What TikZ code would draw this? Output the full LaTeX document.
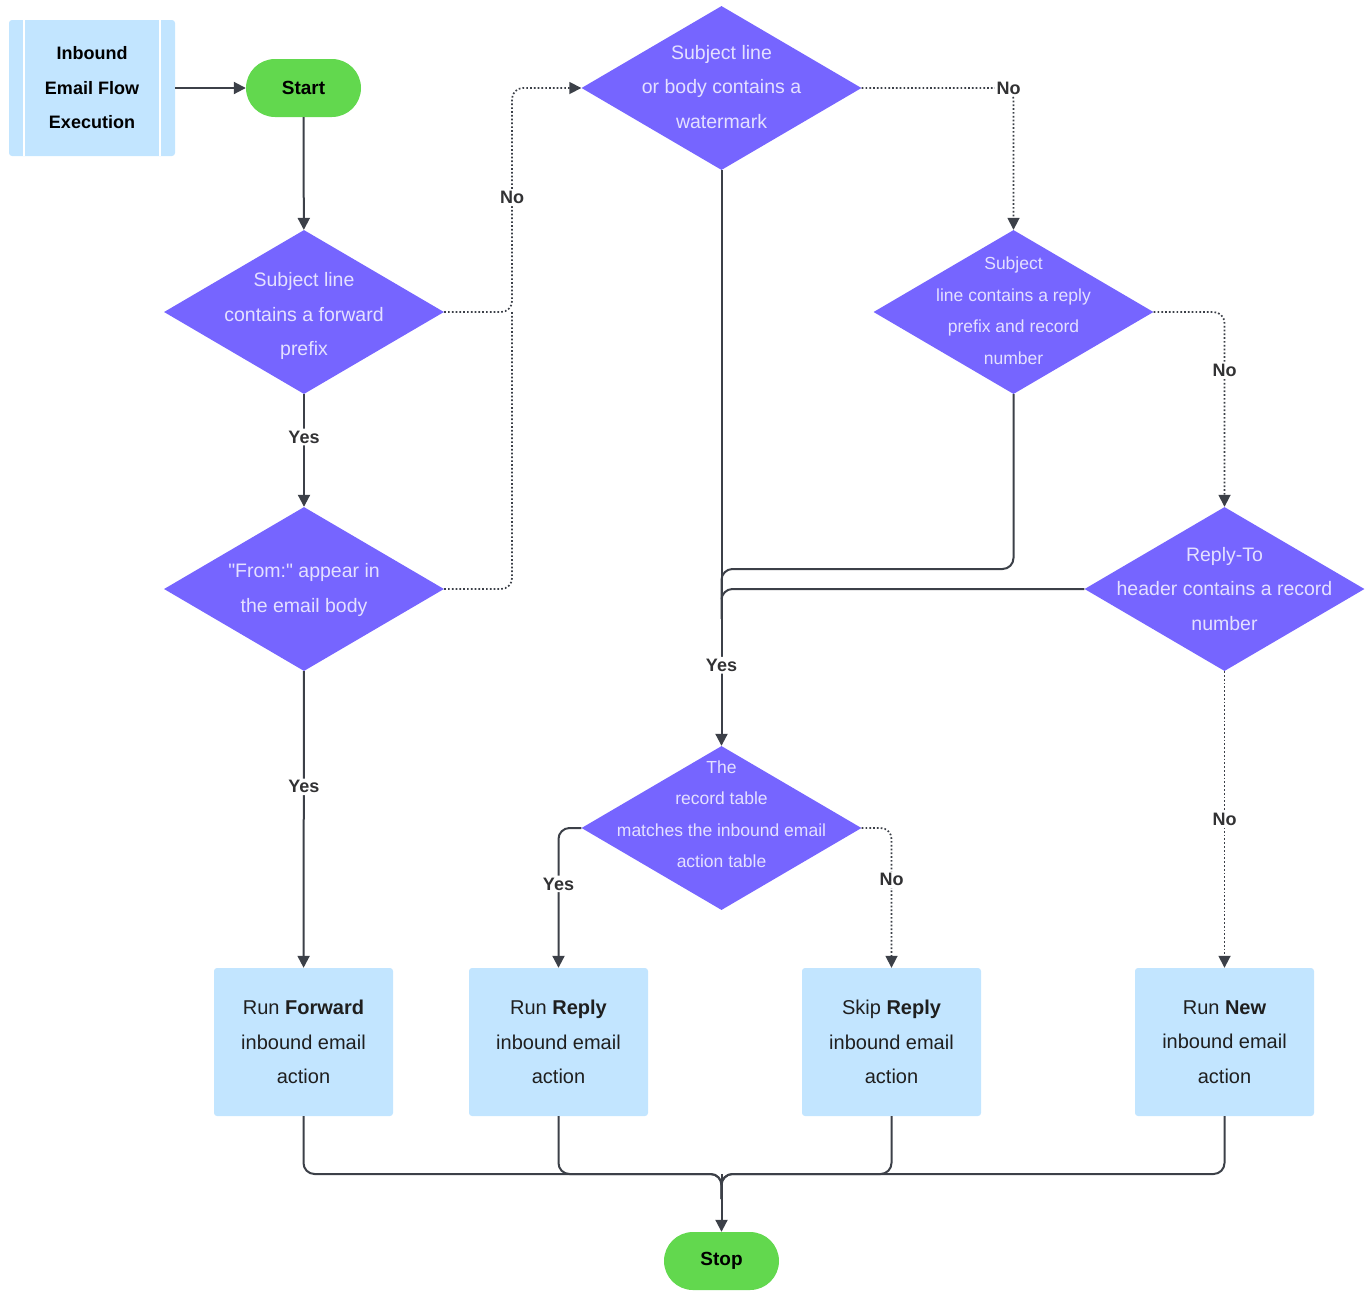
\documentclass[tikz,border=0pt]{standalone}
\usepackage{fontspec}
\setmainfont{Liberation Sans}[Ligatures=TeXOff]
\usetikzlibrary{shapes.geometric,arrows.meta}
\definecolor{decpurple}{RGB}{118,101,255}
\definecolor{dectxt}{RGB}{228,224,255}
\definecolor{actblue}{RGB}{194,229,255}
\definecolor{termgreen}{RGB}{98,216,78}
\definecolor{wirecol}{RGB}{60,64,72}
\definecolor{lbltxt}{RGB}{50,50,52}
\begin{document}
\begin{tikzpicture}[x=1pt, y=-1pt,
    dec/.style={diamond, fill=decpurple, inner sep=0pt,
                minimum width=280pt, minimum height=164pt},
    dectext/.style={text=dectxt, align=center, inner sep=0pt,
                    font=\fontsize{19.5}{34.5}\selectfont},
    dectextsm/.style={dectext, font=\fontsize{17.5}{31.5}\selectfont},
    act/.style={fill=actblue, rounded corners=3pt, align=center,
                minimum width=179pt, minimum height=148pt,
                text=black!88, font=\fontsize{20}{34.5}\selectfont},
    term/.style={fill=termgreen, rounded corners=29pt,
                 minimum width=115pt, minimum height=58pt,
                 font=\bfseries\fontsize{19}{22}\selectfont},
    titlebox/.style={fill=actblue, rounded corners=3pt, align=center,
                     minimum width=166pt, minimum height=136pt,
                     font=\bfseries\fontsize{18}{34.5}\selectfont},
    lbl/.style={fill=white, text=lbltxt, inner sep=2pt,
                font=\bfseries\fontsize{18}{22}\selectfont},
    wire/.style={draw=wirecol, line width=2pt, rounded corners=11pt},
    noline/.style={wire, line width=1.7pt, dash pattern=on 1.7pt off 2.1pt},
    arr/.style={-{Triangle[length=12pt,width=12pt]}}]
  \useasboundingbox (0,0) rectangle (1370,1294);

  % --- Kopf: Titel und Start ---
  \node[titlebox] (ttl) at (92,88) {Inbound\\Email Flow\\Execution};
  \draw[white, line width=2.5pt] ([xshift=15pt]ttl.north west) -- ([xshift=15pt]ttl.south west);
  \draw[white, line width=2.5pt] ([xshift=-15pt]ttl.north east) -- ([xshift=-15pt]ttl.south east);
  \node[term] (start) at (303.5,88) {Start};

  % --- Entscheidungen ---
  \node[dec] (fwdq) at (304,312) {};
  \node[dectext] (fwdqt) at ([yshift=-4pt]fwdq) {Subject line\\contains a forward\\prefix};
  \node[dec] (fromq) at (304,589) {};
  \node[dectext] (fromqt) at ([yshift=-1pt]fromq) {"From:" appear in\\the email body};
  \node[dec] (wmq) at (721.5,88) {};
  \node[dectext] (wmqt) at ([yshift=1pt]wmq) {Subject line\\or body contains a\\watermark};
  \node[dec] (repq) at (1013.5,312) {};
  \node[dectextsm] (repqt) at ([yshift=1.5pt]repq) {Subject\\line contains a reply\\prefix and record\\number};
  \node[dec] (rtq) at (1224.5,589) {};
  \node[dectext] (rtqt) at (rtq) {Reply-To\\header contains a record\\number};
  \node[dec] (tblq) at (721.5,828) {};
  \node[dectextsm] (tblqt) at ([yshift=14pt]tblq) {The\\record table\\matches the inbound email\\action table};

  % --- Aktionen ---
  \node[act] (fwdact) at (303.5,1042) {Run \textbf{Forward}\\inbound email\\action};
  \node[act] (repact) at (558.5,1042) {Run \textbf{Reply}\\inbound email\\action};
  \node[act] (skipact) at (891.5,1042) {Skip \textbf{Reply}\\inbound email\\action};
  \node[act] (newact) at (1224.5,1042) {Run \textbf{New}\\inbound email\\action};
  \node[term] (stop) at (721.5,1261) {Stop};

  % --- Hilfspunkte ---
  \coordinate (nobend) at (512,88);
  \coordinate (wmno) at (1013.5,88);
  \coordinate (repmrg) at (721.5,569);
  \coordinate (rtmrg) at (721.5,589);
  \coordinate (join) at (721.5,1174);

  % --- Verbindungen ---
  \draw[wire, arr] (ttl) -- (start);
  \draw[wire, arr] (start) -- (fwdq);
  \draw[wire, arr] (fwdq) -- node[lbl, pos=0.38]{Yes} (fromq);
  \draw[wire, arr] (fromq) -- node[lbl, pos=0.39]{Yes} (fwdact);
  \draw[noline, arr] (fwdq.east) -| node[lbl, pos=0.755]{No} (nobend) -- (wmq.west);
  \draw[noline] (fromq.east) -| (nobend |- fwdq.east);
  \draw[noline, arr] (wmq.east) -- (wmno) node[lbl, xshift=-5pt]{No} -- (repq.north);
  \draw[noline, arr] (repq.east) -| node[lbl, pos=0.65]{No} (rtq.north);
  \draw[noline, arr] (rtq.south) -- node[lbl]{No} (newact.north);
  \draw[wire, arr] (wmq.south) -- node[lbl, pos=0.86]{Yes} (tblq.north);
  \draw[wire] (repq.south) |- (repmrg) -- ++(0,30);
  \draw[wire] (rtq.west) -- (rtmrg) -- ++(0,30);
  \draw[wire, arr] (tblq.west) -| node[lbl, pos=0.7]{Yes} (repact.north);
  \draw[noline, arr] (tblq.east) -| node[lbl, pos=0.685]{No} (skipact.north);
  \foreach \a in {fwdact,repact,skipact,newact}
    \draw[wire] (\a.south) |- (join) -- ++(0,25);
  \draw[wire, arr] (join) -- (stop.north);
\end{tikzpicture}
\end{document}
